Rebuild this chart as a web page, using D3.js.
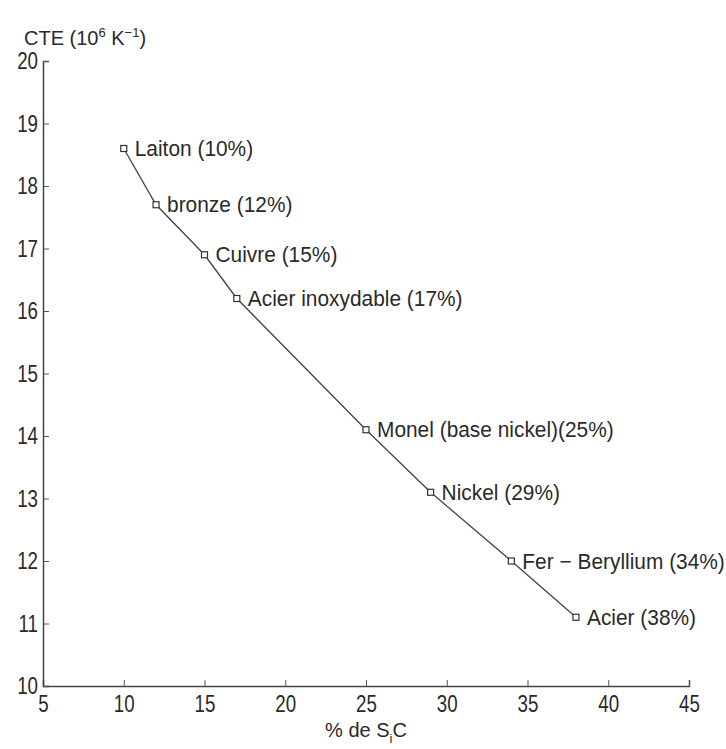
<!DOCTYPE html>
<html lang="fr">
<head>
  <meta charset="UTF-8">
  <title>CTE en fonction de % de SiC</title>
  <script src="https://d3js.org/d3.v7.min.js"></script>
  <style>
    body {
      margin: 0;
      background: #fff;
    }
    text {
      font-family: 'Liberation Sans', Arial, sans-serif;
      fill: #2a2a2a;
    }
    .tick-label { font-size: 24px; }
    .point-label { font-size: 22px; }
  </style>
</head>
<body>
  <svg id="chart" width="726" height="749"></svg>

  <script>
    // Données
    const materiaux = ["Laiton (10%)", "bronze (12%)", "Cuivre (15%)", "Acier inoxydable (17%)",
                       "Monel (base nickel)(25%)", "Nickel (29%)", "Fer \u2212 Beryllium (34%)", "Acier (38%)"];
    const pctSiC = [10, 12, 15, 17, 25, 29, 34, 38];
    const cte = [18.6, 17.7, 16.9, 16.2, 14.1, 13.1, 12.0, 11.1];
    const xTicks = [5, 10, 15, 20, 25, 30, 35, 40, 45];
    const yTicks = [10, 11, 12, 13, 14, 15, 16, 17, 18, 19, 20];

    const dataset = materiaux.map((m, i) => ({ nom: m, x: pctSiC[i], y: cte[i] }));

    const margin = { top: 61, right: 37, bottom: 63, left: 43 };
    const width = 726 - margin.left - margin.right;
    const height = 749 - margin.top - margin.bottom;
    const sx = 0.78; // police étroite (texte compressé horizontalement)

    const svg = d3.select("#chart")
      .append("g")
      .attr("transform", `translate(${margin.left},${margin.top})`);

    const x = d3.scaleLinear().domain([5, 45]).range([0, width]);
    const y = d3.scaleLinear().domain([10, 20]).range([height, 0]);

    // Axe X (ticks vers l'intérieur, style MATLAB)
    const gx = svg.append("g")
      .attr("transform", `translate(0, ${height})`)
      .call(d3.axisBottom(x).tickValues(xTicks).tickSize(-6).tickPadding(9));
    gx.select(".domain").attr("stroke", "#444").attr("stroke-width", 1.5);
    gx.selectAll(".tick line").attr("stroke", "#555");
    gx.selectAll("text")
      .attr("class", "tick-label")
      .attr("fill", "#2a2a2a")
      .attr("dy", "0.72em")
      .attr("transform", `scale(${sx},1)`);

    // Axe Y
    const gy = svg.append("g")
      .call(d3.axisLeft(y).tickValues(yTicks).tickSize(-6).tickPadding(5));
    gy.select(".domain").attr("stroke", "#444").attr("stroke-width", 1.5);
    gy.selectAll(".tick line").attr("stroke", "#555");
    gy.selectAll("text")
      .attr("class", "tick-label")
      .attr("fill", "#2a2a2a")
      .attr("x", -5 / sx)
      .attr("transform", `scale(${sx},1)`);

    // Courbe
    const line = d3.line().x(d => x(d.x)).y(d => y(d.y));
    svg.append("path")
      .datum(dataset)
      .attr("d", line)
      .attr("fill", "none")
      .attr("stroke", "#444")
      .attr("stroke-width", 1.3);

    // Marqueurs carrés
    svg.selectAll(".marker")
      .data(dataset)
      .enter()
      .append("rect")
      .attr("class", "marker")
      .attr("x", d => x(d.x) - 3)
      .attr("y", d => y(d.y) - 3)
      .attr("width", 6)
      .attr("height", 6)
      .attr("fill", "#fff")
      .attr("stroke", "#333")
      .attr("stroke-width", 1.2);

    // Étiquettes
    svg.selectAll(".point-label")
      .data(dataset)
      .enter()
      .append("text")
      .attr("class", "point-label")
      .attr("transform", d => `translate(${x(d.x) + 11},${y(d.y)}) scale(0.95,1)`)
      .attr("dy", "0.35em")
      .text(d => d.nom);

    // Titre de l'axe Y
    const yt = d3.select("#chart").append("text")
      .attr("transform", "translate(24,45)")
      .style("font-size", "20px");
    yt.append("tspan").text("CTE (10");
    yt.append("tspan").attr("dy", -8).style("font-size", "13px").text("6");
    yt.append("tspan").attr("dy", 8).text(" K");
    yt.append("tspan").attr("dy", -8).style("font-size", "13px").text("\u22121");
    yt.append("tspan").attr("dy", 8).text(")");

    // Titre de l'axe X
    const xt = d3.select("#chart").append("text")
      .attr("transform", `translate(${margin.left + width / 2},737)`)
      .attr("text-anchor", "middle")
      .style("font-size", "20px");
    xt.append("tspan").text("% de S");
    xt.append("tspan").attr("dy", 6).style("font-size", "13px").text("i");
    xt.append("tspan").attr("dy", -6).text("C");
  </script>
</body>
</html>
